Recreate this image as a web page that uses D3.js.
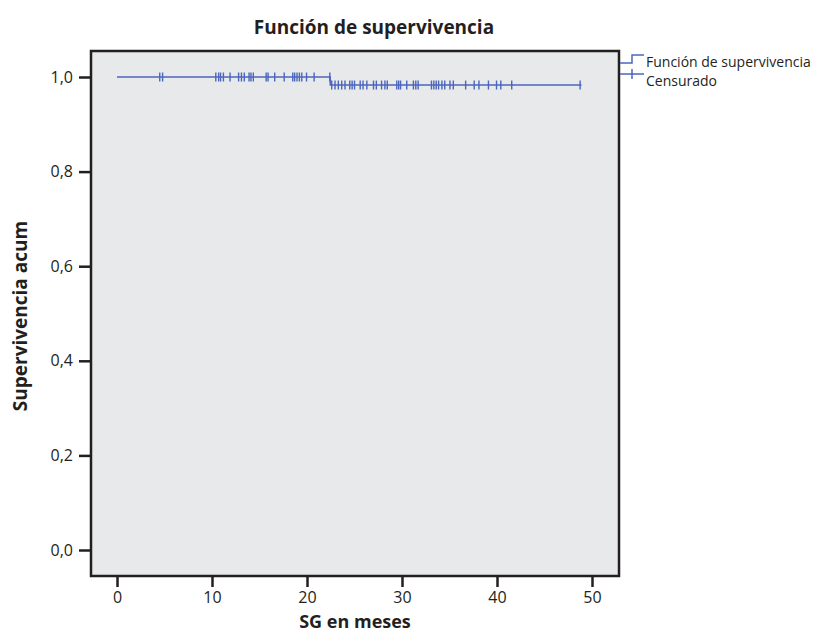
<!DOCTYPE html>
<html><head><meta charset="utf-8">
<script src="https://cdn.jsdelivr.net/npm/d3@7"></script>
<style>body{margin:0;background:#fff}svg{display:block}text{font-family:"Open Sans","Noto Sans",sans-serif;fill:#231f20}</style>
</head><body><svg id="c" width="822" height="635"></svg>
<script>
const title = "Función de supervivencia";
const xLabel = "SG en meses";
const yLabel = "Supervivencia acum";
const xTicks = [0, 10, 20, 30, 40, 50];
const yTicks = [0, 0.2, 0.4, 0.6, 0.8, 1.0];
const legendLabels = ["Función de supervivencia", "Censurado"];
// Kaplan-Meier step: [time, survival]
const stepTimes = [0, 22.45, 48.9];
const stepSurv  = [1.0, 0.983, 0.983];
// censored observations (time, survival at that time)
const censTimes1 = [4.5,4.8,10.4,10.7,10.9,11.2,11.9,12.8,13.1,13.4,13.9,14.1,14.35,15.7,15.9,16.6,17.6,18.5,18.7,18.95,19.2,19.45,19.95,20.75,22.4];
const censTimes2 = [22.6,22.95,23.3,23.65,24.0,24.5,24.75,25.0,25.6,25.9,26.3,27.0,27.3,27.85,28.2,28.45,29.45,29.65,29.85,30.5,31.2,31.45,31.7,33.1,33.35,33.6,33.85,34.2,34.5,35.05,35.4,36.7,37.6,38.1,39.1,39.95,40.4,41.55,48.75];

const svg = d3.select("#c");
const L = 91, R = 619, T = 51, B = 576;
const x = d3.scaleLinear().domain([0, 50]).range([117, 592]);
const y = d3.scaleLinear().domain([0, 1]).range([550, 77]);
const blue = "#4b66bd";

svg.append("rect").attr("x", L).attr("y", T).attr("width", R - L).attr("height", B - T)
  .attr("fill", "#e8e9eb").attr("stroke", "#231f20").attr("stroke-width", 2.5);

// axes
const gx = svg.append("g").attr("transform", `translate(0,${B + 1})`)
  .call(d3.axisBottom(x).tickValues(xTicks).tickSize(10).tickPadding(5).tickFormat(d3.format("d")));
const gy = svg.append("g").attr("transform", `translate(${L - 1},0)`)
  .call(d3.axisLeft(y).tickValues(yTicks).tickSize(11).tickPadding(6).tickFormat(d => d.toFixed(1).replace(".", ",")));
[gx, gy].forEach(g => {
  g.select(".domain").remove();
  g.selectAll(".tick line").attr("stroke", "#231f20").attr("stroke-width", 2.5);
  g.selectAll(".tick text").attr("font-size", 16).attr("fill", "#231f20");
});

// step line
const pts = stepTimes.map((t, i) => [t, stepSurv[i]]);
const line = d3.line().x(d => x(d[0])).y(d => y(d[1])).curve(d3.curveStepAfter);
svg.append("path").attr("d", line(pts)).attr("fill", "none").attr("stroke", blue).attr("stroke-width", 1.5);

const cens = censTimes1.map(t => [t, stepSurv[0]]).concat(censTimes2.map(t => [t, stepSurv[1]]));
svg.append("g").selectAll("line").data(cens).join("line")
  .attr("x1", d => x(d[0])).attr("x2", d => x(d[0]))
  .attr("y1", d => y(d[1]) - 4.5).attr("y2", d => y(d[1]) + 4.5)
  .attr("stroke", blue).attr("stroke-width", 1.4);

// titles
svg.append("text").attr("x", 374).attr("y", 34).attr("text-anchor", "middle")
  .attr("font-size", 19).attr("font-weight", "bold").text(title);
svg.append("text").attr("x", 355).attr("y", 628).attr("text-anchor", "middle")
  .attr("font-size", 18).attr("font-weight", "bold").text(xLabel);
svg.append("text").attr("transform", "translate(27,316) rotate(-90)").attr("text-anchor", "middle")
  .attr("font-size", 19).attr("font-weight", "bold").text(yLabel);

// legend
const lg = svg.append("g");
lg.append("path").attr("d", "M620,63 H632 V55 H644").attr("fill", "none").attr("stroke", blue).attr("stroke-width", 1.5);
lg.append("line").attr("x1", 620).attr("x2", 644).attr("y1", 74).attr("y2", 74).attr("stroke", blue).attr("stroke-width", 1.5);
lg.append("line").attr("x1", 632).attr("x2", 632).attr("y1", 69).attr("y2", 79).attr("stroke", blue).attr("stroke-width", 1.5);
lg.selectAll("text").data(legendLabels).join("text")
  .attr("x", 646).attr("y", (d, i) => 67 + i * 19).attr("font-size", 14).text(d => d);
</script></body></html>
